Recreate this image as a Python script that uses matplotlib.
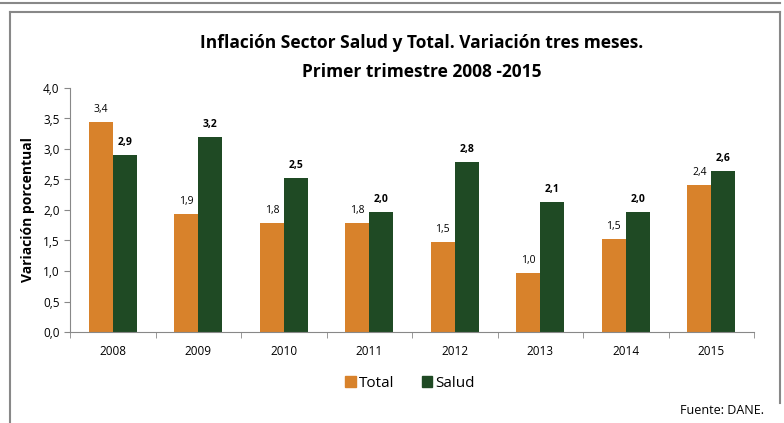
import numpy as np
import matplotlib.pyplot as plt
from matplotlib.lines import Line2D
from matplotlib.patches import Patch

plt.rcParams['font.family'] = ['Open Sans', 'DejaVu Sans']

years = ['2008', '2009', '2010', '2011', '2012', '2013', '2014', '2015']
total = [3.44, 1.93, 1.78, 1.79, 1.47, 0.96, 1.52, 2.41]
salud = [2.90, 3.20, 2.52, 1.96, 2.79, 2.13, 1.96, 2.64]

orange = '#D8822B'
green = '#1F4A24'

fig = plt.figure(figsize=(7.84, 4.23), dpi=100)
ax = fig.add_axes([70/784, 1 - 332/423, 684/784, 244/423])

x = np.arange(len(years))
w = 0.28
b1 = ax.bar(x - w/2, total, w, color=orange, label='Total')
b2 = ax.bar(x + w/2, salud, w, color=green, label='Salud')

def fmt(v):
    return f'{v:.1f}'.replace('.', ',')

for rect, v in zip(b1, total):
    ax.annotate(fmt(v), (rect.get_x() + rect.get_width()/2, v), xytext=(0, 5),
                textcoords='offset points', ha='center', va='bottom', fontsize=7.5)
for rect, v in zip(b2, salud):
    ax.annotate(fmt(v), (rect.get_x() + rect.get_width()/2, v), xytext=(0, 5),
                textcoords='offset points', ha='center', va='bottom', fontsize=7.5,
                fontweight='bold')

ax.set_xlim(-0.5, len(years) - 0.5)
ax.set_ylim(0, 4.0)
yt = np.arange(0, 4.01, 0.5)
ax.set_yticks(yt)
ax.set_yticklabels([fmt(v) for v in yt], fontsize=8.5)
ax.set_xticks(x)
ax.set_xticklabels(years, fontsize=8.5)
ax.set_xticks(np.arange(-0.5, len(years)), minor=True)
ax.tick_params(axis='x', which='major', length=0, pad=9)
ax.tick_params(axis='x', which='minor', length=4, color='#888888')
ax.tick_params(axis='y', length=4, color='#888888')

for s in ['top', 'right']:
    ax.spines[s].set_visible(False)
for s in ['left', 'bottom']:
    ax.spines[s].set_color('#888888')

ax.set_ylabel('Variación porcentual', fontsize=10, fontweight='bold', labelpad=6)

fig.text(422/784, 1 - 43/423, 'Inflación Sector Salud y Total. Variación tres meses.',
         ha='center', va='center', fontsize=12.5, fontweight='bold')
fig.text(422/784, 1 - 72/423, 'Primer trimestre 2008 -2015',
         ha='center', va='center', fontsize=12.5, fontweight='bold')

handles = [Patch(color=orange, label='Total'), Patch(color=green, label='Salud')]
fig.legend(handles=handles, loc='center', bbox_to_anchor=(410/784, 1 - 383/423),
           ncol=2, frameon=False, fontsize=11, handlelength=0.7, handleheight=0.7,
           handletextpad=0.2, columnspacing=1.8)

fig.text(764/784, 1 - 410/423, 'Fuente: DANE.', ha='right', va='center', fontsize=9)

# frame around the chart
fig.add_artist(Line2D([0, 780/784], [1 - 3/423, 1 - 3/423], color='#888888', lw=1.5))
fig.add_artist(Line2D([10/784, 780/784], [1 - 12/423, 1 - 12/423], color='#888888', lw=1.5))
fig.add_artist(Line2D([10/784, 10/784], [1 - 12/423, 0], color='#888888', lw=1.5))
fig.add_artist(Line2D([780/784, 780/784], [1 - 12/423, 1 - 403/423], color='#888888', lw=1.5))

fig.savefig('out.png', dpi=100)
